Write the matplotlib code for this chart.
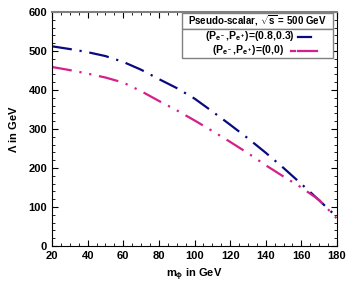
import matplotlib
matplotlib.use("Agg")
import matplotlib.pyplot as plt
from matplotlib.lines import Line2D
from matplotlib.patches import Rectangle

m_phi = [20, 30, 40, 50, 60, 70, 80, 90, 100, 110, 120, 130, 140, 150, 160, 170, 180]
lam_pol = [512, 505, 497, 487, 472, 452, 428, 405, 378, 345, 311, 276, 239, 200, 159, 117, 74]
lam_unpol = [459, 451, 442, 432, 419, 397, 372, 348, 322, 295, 267, 238, 207, 178, 150, 118, 70]

label_pol = r"(P$_{\mathbf{e^-}}$,P$_{\mathbf{e^+}}$)=(0.8,0.3)"
label_unpol = r"(P$_{\mathbf{e^-}}$,P$_{\mathbf{e^+}}$)=(0,0)"
title = r"Pseudo-scalar, $\sqrt{s}$ = 500 GeV"

plt.rcParams['font.family'] = ['Liberation Sans', 'DejaVu Sans']
plt.rcParams['mathtext.fontset'] = 'custom'
plt.rcParams['mathtext.rm'] = 'Liberation Sans:bold'
plt.rcParams['mathtext.it'] = 'Liberation Sans:bold'
plt.rcParams['mathtext.bf'] = 'Liberation Sans:bold'

blue = '#0a0a80'
pink = '#d4208a'

fig = plt.figure(figsize=(3.54, 3.0), dpi=100)
ax = fig.add_axes([0.147, 0.18, 0.805, 0.78])

ax.plot(m_phi, lam_pol, color=blue, lw=1.6, dashes=(9, 3.5, 1, 3.5))
ax.plot(m_phi, lam_unpol, color=pink, lw=1.6, dashes=(9, 3.5, 1, 3.5, 1, 3.5))

ax.set_xlim(20, 180)
ax.set_ylim(0, 600)
ax.set_xticks(range(20, 181, 20))
ax.set_yticks(range(0, 601, 100))
ax.set_xticks(range(20, 181, 5), minor=True)
ax.set_yticks(range(0, 601, 20), minor=True)
ax.tick_params(which='both', direction='in', top=True, right=True, labelsize=8)
ax.tick_params(which='major', length=4)
ax.tick_params(which='minor', length=2)
for lab in ax.get_xticklabels() + ax.get_yticklabels():
    lab.set_fontweight('bold')
ax.spines['top'].set_color('#808080')
ax.spines['top'].set_linewidth(1.5)

ax.set_xlabel(r"m$_{\phi}$ in GeV", fontsize=8, fontweight='bold')
ax.set_ylabel(r"$\Lambda$ in GeV", fontsize=8, fontweight='bold', labelpad=7)


def fx(px):
    return (px - 52) / 285.0


def fy(py):
    return (246 - py) / 234.0


# title box
ax.add_patch(Rectangle((fx(182), fy(29)), fx(333) - fx(182), fy(13) - fy(29),
                       transform=ax.transAxes, fc='white', ec='#808080', lw=1.0, zorder=5))
ax.text((fx(182) + fx(333)) / 2, (fy(13) + fy(29)) / 2, title, transform=ax.transAxes,
        ha='center', va='center', fontsize=7, fontweight='bold', zorder=6)
# legend box
ax.add_patch(Rectangle((fx(182), fy(58)), fx(333) - fx(182), fy(29) - fy(58),
                       transform=ax.transAxes, fc='white', ec='#808080', lw=1.0, zorder=5))
ax.text(fx(295), fy(36), label_pol, transform=ax.transAxes, ha='right', va='center',
        fontsize=7.6, fontweight='bold', zorder=6)
ax.text(fx(284), fy(50), label_unpol, transform=ax.transAxes, ha='right', va='center',
        fontsize=7.6, fontweight='bold', zorder=6)
ax.add_line(Line2D([fx(298), fx(311)], [fy(37), fy(37)], transform=ax.transAxes,
                   color=blue, lw=1.6, zorder=6))
ax.add_line(Line2D([fx(291), fx(294.5)], [fy(51), fy(51)], transform=ax.transAxes,
                   color=pink, lw=1.6, zorder=6))
ax.add_line(Line2D([fx(298), fx(317)], [fy(51), fy(51)], transform=ax.transAxes,
                   color=pink, lw=1.6, zorder=6))

fig.savefig("out.png", dpi=100)
